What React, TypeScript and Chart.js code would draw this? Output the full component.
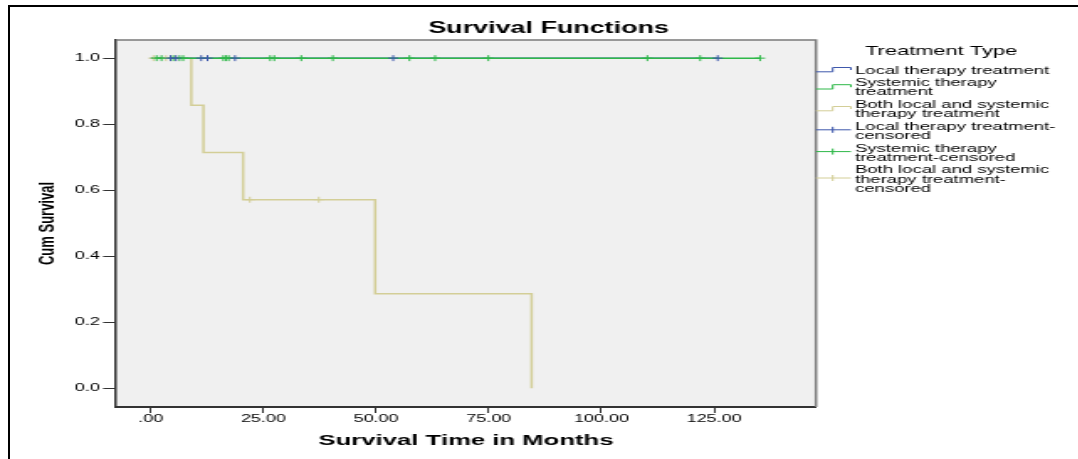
import React, { useEffect, useRef } from "react";
import { Chart, registerables } from "chart.js";
Chart.register(...registerables);

// ---- data ----
const xTicks = [0, 25, 50, 75, 100, 125];
const yTicks = [0, 0.2, 0.4, 0.6, 0.8, 1.0];

const localLineTimes = [0, 125.8];
const localLineSurv = [1, 1];
const systemicLineTimes = [0, 135.2];
const systemicLineSurv = [1, 1];
const bothLineTimes = [0, 9.0, 11.7, 20.5, 49.8, 84.5];
const bothLineSurv = [1, 0.857, 0.714, 0.571, 0.286, 0];

const localCensorTimes = [4.4, 5.6, 11.2, 12.6, 18.7, 53.8, 125.8];
const systemicCensorTimes = [1.3, 2.4, 5.0, 6.4, 7.2, 16.1, 16.7, 17.3, 26.5, 27.4, 33.4, 40.4, 57.4, 63.1, 74.9, 110.2, 121.9, 135.2];
const bothCensorTimes = [0.6, 3.4, 22.0, 37.3];
const bothCensorSurv = [1, 1, 0.571, 0.571];

const chartTitle = "Survival Functions";
const xTitle = "Survival Time in Months";
const yTitle = "Cum Survival";
const legendTitle = "Treatment Type";
const legendLabels = [
  ["Local therapy treatment"],
  ["Systemic therapy", "treatment"],
  ["Both local and systemic", "therapy treatment"],
  ["Local therapy treatment-", "censored"],
  ["Systemic therapy", "treatment-censored"],
  ["Both local and systemic", "therapy treatment-", "censored"],
];

const BLUE = "#3E58AC";
const GREEN = "#2EB848";
const BEIGE = "#D3CE97";
const legendColors = [BLUE, GREEN, BEIGE, BLUE, GREEN, BEIGE];

const STRETCH = 1.68;
const CANVAS_W = 642;
const CANVAS_H = 459;
const FONT = "'Liberation Sans', Arial, sans-serif";

const toPts = (xs: number[], ys: number[]) => xs.map((x, i) => ({ x, y: ys[i] }));

const bgPlugin = {
  id: "bgPlugin",
  beforeDraw(chart: any) {
    const { ctx, chartArea: a } = chart;
    ctx.save();
    ctx.fillStyle = "#F0F0F0";
    ctx.fillRect(a.left, a.top, a.right - a.left, a.bottom - a.top);
    ctx.restore();
  },
  afterDraw(chart: any) {
    const { ctx, chartArea: a } = chart;
    ctx.save();
    ctx.strokeStyle = "#7a7a7a";
    ctx.lineWidth = 1.5;
    ctx.beginPath();
    ctx.moveTo(a.left, a.top);
    ctx.lineTo(a.right, a.top);
    ctx.lineTo(a.right, a.bottom);
    ctx.stroke();

    // chart title
    ctx.fillStyle = "#000";
    ctx.font = `bold 16px ${FONT}`;
    ctx.textAlign = "center";
    ctx.textBaseline = "middle";
    ctx.fillText(chartTitle, 326.5, 29);

    // legend
    const x0 = a.right;
    const xStep = x0 + 10;
    const xEnd = x0 + 20.8;
    const xText = x0 + 23.2;
    ctx.font = `13px ${FONT}`;
    ctx.textAlign = "left";
    ctx.fillText(legendTitle, x0 + 29.2, 51.5);
    ctx.font = `11px ${FONT}`;
    const lineH = 9.2;
    const gap = 3.4;
    let y = 70.5;
    legendLabels.forEach((lines, k) => {
      const first = y;
      lines.forEach((t, j) => {
        ctx.fillStyle = "#000";
        ctx.fillText(t, xText, y + j * lineH);
      });
      const last = y + (lines.length - 1) * lineH;
      const c = (first + last) / 2;
      ctx.strokeStyle = legendColors[k];
      ctx.lineWidth = 1;
      ctx.beginPath();
      if (k < 3) {
        ctx.moveTo(x0, c + 1.3);
        ctx.lineTo(xStep, c + 1.3);
        ctx.lineTo(xStep, c - 3);
        ctx.lineTo(xEnd, c - 3);
        ctx.lineTo(xEnd, c - 0.5);
      } else {
        ctx.moveTo(x0, c - 1.5);
        ctx.lineTo(xEnd, c - 1.5);
        ctx.moveTo(xStep, c - 4.5);
        ctx.lineTo(xStep, c + 1.5);
      }
      ctx.stroke();
      y = last + lineH + gap;
    });
    ctx.restore();
  },
};

export default function App() {
  const ref = useRef<HTMLCanvasElement>(null);
  useEffect(() => {
    const censorStyle = (c: string) => ({
      showLine: false,
      pointStyle: "cross" as const,
      pointRadius: 3,
      pointBorderWidth: 1,
      borderColor: c,
      pointBorderColor: c,
      backgroundColor: c,
    });
    const lineStyle = (c: string) => ({
      stepped: "before" as const,
      borderColor: c,
      borderWidth: 1.5,
      pointRadius: 0,
      fill: false,
    });
    const chart = new Chart(ref.current!, {
      type: "line",
      data: {
        datasets: [
          { label: legendLabels[3].join(" "), data: toPts(localCensorTimes, localCensorTimes.map(() => 1)), ...censorStyle(BLUE) },
          { label: legendLabels[4].join(" "), data: toPts(systemicCensorTimes, systemicCensorTimes.map(() => 1)), ...censorStyle(GREEN) },
          { label: legendLabels[5].join(" "), data: toPts(bothCensorTimes, bothCensorSurv), ...censorStyle(BEIGE) },
          { label: legendLabels[1].join(" "), data: toPts(systemicLineTimes, systemicLineSurv), ...lineStyle(GREEN) },
          { label: legendLabels[0].join(" "), data: toPts(localLineTimes, localLineSurv), ...lineStyle(BLUE) },
          { label: legendLabels[2].join(" "), data: toPts(bothLineTimes, bothLineSurv), ...lineStyle(BEIGE) },
        ],
      },
      options: {
        animation: false,
        responsive: false,
        devicePixelRatio: 1,
        layout: { padding: { top: 40, right: CANVAS_W - 485.7, bottom: 0, left: 0 } },
        plugins: { legend: { display: false }, tooltip: { enabled: false }, title: { display: false } },
        scales: {
          x: {
            type: "linear",
            min: -7.7,
            max: 147.6,
            afterBuildTicks: (s: any) => {
              s.ticks = xTicks.map((v) => ({ value: v }));
            },
            afterFit: (s: any) => {
              s.height = 52;
            },
            ticks: {
              autoSkip: false,
              maxRotation: 0,
              padding: 0,
              color: "#000",
              font: { family: FONT, size: 10.7 },
              callback: (v: any) => (Number(v) === 0 ? ".00" : Number(v).toFixed(2)),
            },
            grid: { drawOnChartArea: false, drawTicks: true, tickLength: 6, color: "#333", lineWidth: 1 },
            border: { display: true, color: "#333", width: 2 },
            title: {
              display: true,
              text: xTitle,
              color: "#000",
              font: { family: FONT, size: 15.3, weight: "bold" },
              padding: { top: 0, bottom: 8.8 },
            },
          },
          y: {
            type: "linear",
            min: -0.057,
            max: 1.055,
            afterBuildTicks: (s: any) => {
              s.ticks = yTicks.map((v) => ({ value: v }));
            },
            afterFit: (s: any) => {
              s.width = 69.05;
            },
            ticks: {
              autoSkip: false,
              padding: 1.9,
              color: "#000",
              font: { family: FONT, size: 10.7 },
              callback: (v: any) => Number(v).toFixed(1),
            },
            grid: { drawOnChartArea: false, drawTicks: true, tickLength: 7.7, color: "#333", lineWidth: 1 },
            border: { display: true, color: "#333", width: 1.5 },
            title: {
              display: true,
              text: yTitle,
              color: "#000",
              font: { family: FONT, size: 13, weight: "bold" },
              padding: { top: 20.2, bottom: 0 },
            },
          },
        },
      },
      plugins: [bgPlugin],
    });
    return () => chart.destroy();
  }, []);

  return (
    <div style={{ position: "absolute", left: 0, top: 0, width: 1078, height: 459, overflow: "hidden", background: "#fff" }}>
      <div
        style={{
          position: "absolute",
          left: 0,
          top: 0,
          width: CANVAS_W,
          height: CANVAS_H,
          transform: `scaleX(${STRETCH})`,
          transformOrigin: "0 0",
        }}
      >
        <canvas ref={ref} width={CANVAS_W} height={CANVAS_H} style={{ display: "block" }} />
      </div>
      <div
        style={{
          position: "absolute",
          left: 8,
          top: 5,
          width: 1090,
          height: 470,
          borderLeft: "2px solid #000",
          borderTop: "2px solid #000",
          boxSizing: "border-box",
          pointerEvents: "none",
        }}
      />
    </div>
  );
}
